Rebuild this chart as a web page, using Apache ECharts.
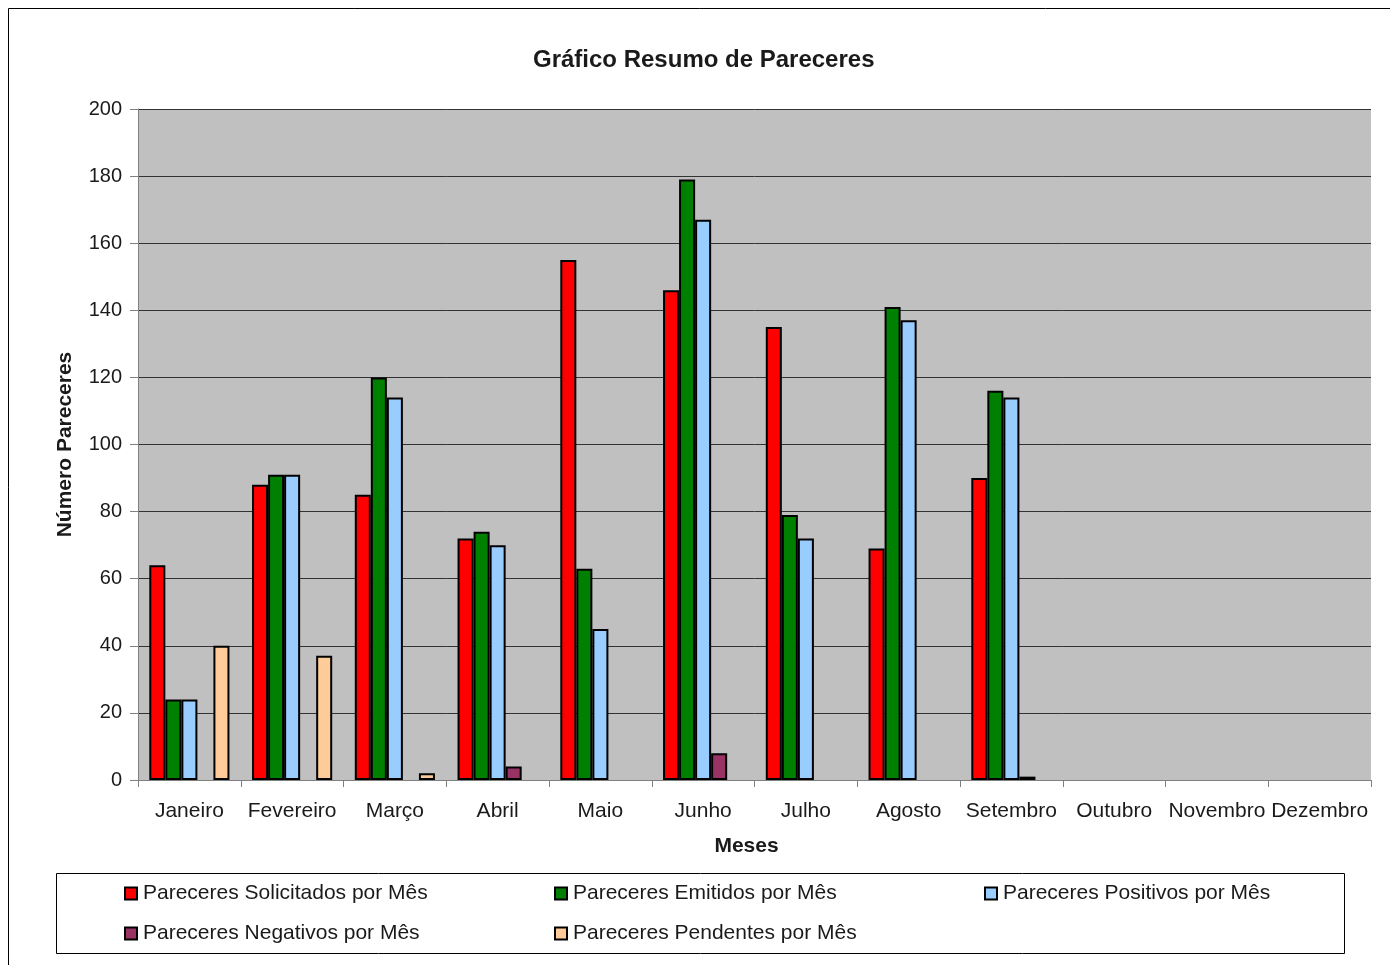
<!DOCTYPE html>
<html>
<head>
<meta charset="utf-8">
<script src="https://cdn.jsdelivr.net/npm/echarts@6/dist/echarts.min.js"></script>
<style>
html,body{margin:0;padding:0;background:#fff;}
#chart{width:1390px;height:965px;}
</style>
</head>
<body>
<div id="chart"></div>
<script>
const months = ['Janeiro','Fevereiro','Março','Abril','Maio','Junho','Julho','Agosto','Setembro','Outubro','Novembro','Dezembro'];
const solicitados = [64, 88, 85, 72, 155, 146, 135, 69, 90, null, null, null];
const emitidos   = [24, 91, 120, 74, 63, 179, 79, 141, 116, null, null, null];
const positivos  = [24, 91, 114, 70, 45, 167, 72, 137, 114, null, null, null];
const negativos  = [0, 0, 0, 4, 0, 8, 0, 0, 1, null, null, null];
const pendentes  = [40, 37, 2, 0, 0, 0, 0, 0, 0, null, null, null];
const seriesNames = ['Pareceres Solicitados por Mês','Pareceres Emitidos por Mês','Pareceres Positivos por Mês','Pareceres Negativos por Mês','Pareceres Pendentes por Mês'];
const seriesColors = ['#ff0000','#008000','#99ccff','#993366','#ffcc99'];
const seriesData = [solicitados, emitidos, positivos, negativos, pendentes];

const FONT = '"Liberation Sans", Arial, sans-serif';
const chart = echarts.init(document.getElementById('chart'), null, {renderer:'canvas'});

const legendPos = [[124,883],[554,883],[984,883],[124,923],[554,923]];

const option = {
  backgroundColor:'#fff',
  animation:false,
  title:{
    text:'Gráfico Resumo de Pareceres',
    left:528, top:43,
    textStyle:{fontFamily:FONT,fontWeight:'bold',fontSize:24,color:'#1a1a1a'}
  },
  graphic:[
    {type:'rect',shape:{x:8.5,y:8.5,width:1400,height:1000},style:{fill:'none',stroke:'#000',lineWidth:1},z:-10},
    {type:'rect',shape:{x:56.5,y:873.5,width:1288,height:80},style:{fill:'none',stroke:'#000',lineWidth:1},z:-10}
  ],
  legend: seriesNames.map((n,i)=>({
    data:[n], left:legendPos[i][0], top:legendPos[i][1],
    icon:'rect', itemWidth:12, itemHeight:12, itemGap:0,
    padding:0,
    textStyle:{fontFamily:FONT,fontSize:21,color:'#1a1a1a',padding:[0,0,0,1]},
    selectedMode:false
  })),
  grid:{left:138,right:19,top:109,bottom:185,containLabel:false,show:true,backgroundColor:'#c0c0c0',borderWidth:0},
  xAxis:{
    type:'category', data:months,
    name:'Meses', nameLocation:'middle', nameGap:56,
    nameTextStyle:{fontFamily:FONT,fontWeight:'bold',fontSize:21,color:'#1a1a1a',padding:[0,16,0,0]},
    axisLine:{lineStyle:{color:'#808080',width:1}},
    axisTick:{show:true,length:7,lineStyle:{color:'#808080'},alignWithLabel:false},
    axisLabel:{fontFamily:FONT,fontSize:21,color:'#1a1a1a',margin:21,interval:0},
    splitLine:{show:false}
  },
  yAxis:{
    type:'value', min:0, max:200, interval:20,
    name:'Número Pareceres', nameLocation:'middle', nameGap:62, nameRotate:90,
    nameTextStyle:{fontFamily:FONT,fontWeight:'bold',fontSize:21,color:'#1a1a1a'},
    axisLine:{show:true,lineStyle:{color:'#808080',width:1}},
    axisTick:{show:true,length:8,lineStyle:{color:'#808080'}},
    axisLabel:{fontFamily:FONT,fontSize:20,color:'#1a1a1a',margin:16},
    splitLine:{show:true,lineStyle:{color:'#333',width:1}}
  },
  series: seriesNames.map((n,i)=>({
    name:n, type:'bar',
    data:seriesData[i].map(v => (v === 0 || v === null) ? '-' : v),
    barGap:'0%', barCategoryGap:'22%',
    itemStyle:{color:seriesColors[i],borderColor:'#000',borderWidth:2}
  }))
};
chart.setOption(option);
</script>
</body>
</html>
